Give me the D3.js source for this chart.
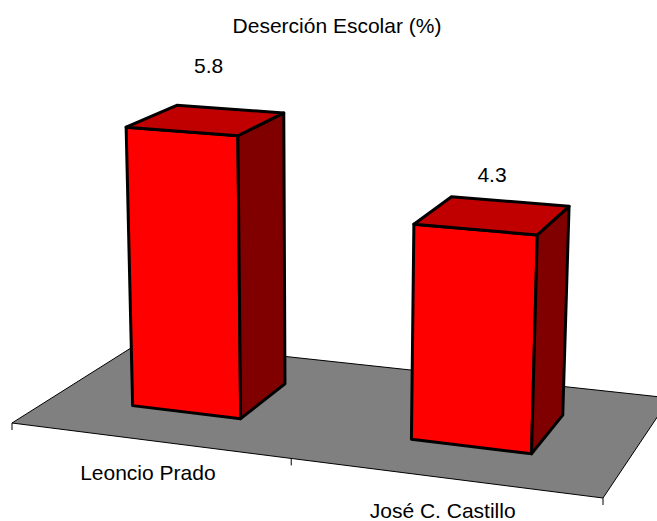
<!DOCTYPE html>
<html>
<head>
<meta charset="utf-8">
<script src="https://d3js.org/d3.v7.min.js"></script>
<style>
  html, body { margin: 0; padding: 0; background: #fff; overflow: hidden; }
  text { font-family: "Liberation Sans", Arial, sans-serif; fill: #000; }
</style>
</head>
<body>
<div class="page"></div>
<script>
var title = 'Deserción Escolar (%)';
var categories = ['Leoncio Prado', 'José C. Castillo'];
var values = [5.8, 4.3];

var width = 657, height = 521;

// corners of the chart floor as they land on the page
var floor = {a: [12, 423], b: [603, 498], c: [670, 398], d: [142, 341]};

var uScale = d3.scaleBand().domain(categories).range([0, 1]).paddingInner(0.6).paddingOuter(0.3);
var uTick = d3.scalePoint().domain(d3.range(categories.length + 1)).range([0, 1]);
var vScale = d3.scaleBand().domain(['depth']).range([0, 1]).paddingInner(0).paddingOuter(0.75);

// pixels per value unit grow as the floor comes nearer
var unitScale = d3.scaleLinear().domain([384, 454]).range([46.7, 50.9]);

var project = floorProjection(floor);

var svg = d3.select('.page').append('svg')
  .attr('width', width)
  .attr('height', height)
  .style('display', 'block');

svg.append('path')
  .attr('d', poly([[0, 0], [1, 0], [1, 1], [0, 1]].map(function(p) { return project(p[0], p[1]); })))
  .attr('fill', '#808080')
  .attr('stroke', '#000')
  .attr('stroke-width', 1);

svg.selectAll('.tick').data(uTick.domain())
  .enter()
  .append('line')
  .attr('class', 'tick')
  .attr('x1', function(d) { return project(uTick(d), 0)[0]; })
  .attr('x2', function(d) { return project(uTick(d), 0)[0]; })
  .attr('y1', function(d) { return project(uTick(d), 0)[1]; })
  .attr('y2', function(d) { return project(uTick(d), 0)[1] + 7; })
  .attr('stroke', '#000')
  .attr('stroke-width', 1);

var bars = svg.selectAll('.bar').data(categories)
  .enter()
  .append('g')
  .attr('class', 'bar');

bars.each(function(cat, i) {
  var u0 = uScale(cat), u1 = u0 + uScale.bandwidth();
  var v0 = vScale('depth'), v1 = v0 + vScale.bandwidth();
  var g = d3.select(this);
  var val = values[i];

  var fl = point(u0, v0, 0), fr = point(u1, v0, 0), br = point(u1, v1, 0);
  var tfl = point(u0, v0, val), tfr = point(u1, v0, val), tbr = point(u1, v1, val), tbl = point(u0, v1, val);

  face(g, [fl, fr, tfr, tfl], '#ff0000');
  face(g, [fr, br, tbr, tfr], '#800000');
  face(g, [tfl, tfr, tbr, tbl], '#c00000');
});

svg.selectAll('.value').data(values)
  .enter()
  .append('text')
  .attr('class', 'value')
  .attr('text-anchor', 'middle')
  .style('font-size', '21px')
  .attr('x', function(d, i) { return labelPoint(i, d)[0]; })
  .attr('y', function(d, i) { return labelPoint(i, d)[1]; })
  .text(function(d) { return d.toFixed(1); });

svg.selectAll('.category').data(categories)
  .enter()
  .append('text')
  .attr('class', 'category')
  .attr('text-anchor', 'middle')
  .style('font-size', '21px')
  .attr('x', function(d) { return project(uScale(d) + uScale.bandwidth() / 2, 0)[0]; })
  .attr('y', function(d) { return project(uScale(d) + uScale.bandwidth() / 2, 0)[1] + 40; })
  .text(function(d) { return d; });

svg.append('text')
  .text(title)
  .attr('x', 337)
  .attr('y', 33)
  .attr('text-anchor', 'middle')
  .style('font-size', '21px');

// value labels sit above the middle of the top face, with half the lean of the uprights
function labelPoint(i, val) {
  var cat = categories[i];
  var u = uScale(cat) + uScale.bandwidth() / 2, v = vScale('depth') + vScale.bandwidth() / 2;
  var top = point(u, v, val * 1.21);
  return [(top[0] + project(u, v)[0]) / 2 + 1, top[1] + 11];
}

function face(g, pts, color) {
  g.append('path')
    .attr('d', poly(pts))
    .attr('fill', color)
    .attr('stroke', '#000')
    .attr('stroke-width', 3)
    .attr('stroke-linejoin', 'round');
}

function poly(pts) {
  return d3.line()(pts) + 'Z';
}

// floor position (u, v) raised by a value; uprights lean apart going up
function point(u, v, val) {
  var p = project(u, v);
  var rise = val * unitScale(p[1]);
  return [p[0] + (p[0] - 320) * rise * 1.25e-4, p[1] - rise];
}

// maps the unit square onto the four floor corners
function floorProjection(f) {
  var sx = f.a[0] - f.b[0] + f.c[0] - f.d[0],
      sy = f.a[1] - f.b[1] + f.c[1] - f.d[1],
      dx1 = f.b[0] - f.c[0], dy1 = f.b[1] - f.c[1],
      dx2 = f.d[0] - f.c[0], dy2 = f.d[1] - f.c[1],
      det = dx1 * dy2 - dx2 * dy1,
      g = (sx * dy2 - dx2 * sy) / det,
      h = (dx1 * sy - sx * dy1) / det;
  return function(u, v) {
    var w = g * u + h * v + 1;
    return [
      ((f.b[0] - f.a[0] + g * f.b[0]) * u + (f.d[0] - f.a[0] + h * f.d[0]) * v + f.a[0]) / w,
      ((f.b[1] - f.a[1] + g * f.b[1]) * u + (f.d[1] - f.a[1] + h * f.d[1]) * v + f.a[1]) / w
    ];
  };
}
</script>
</body>
</html>
